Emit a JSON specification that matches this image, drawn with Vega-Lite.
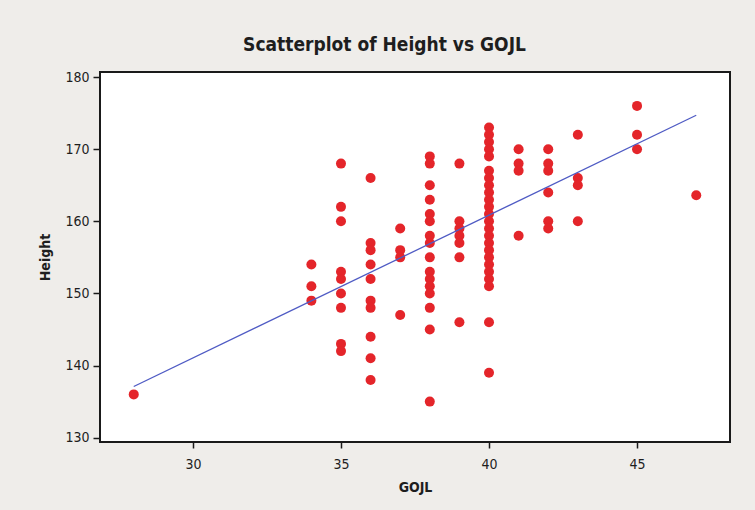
{
  "$schema": "https://vega.github.io/schema/vega-lite/v6.json",
  "width": 630,
  "height": 370,
  "autosize": {"type": "none"},
  "padding": {"left": 100, "top": 72, "right": 25, "bottom": 68},
  "background": "#efedea",
  "title": {
    "text": "Scatterplot of Height vs GOJL",
    "font": "DejaVu Sans Condensed",
    "fontSize": 19,
    "fontWeight": "bold",
    "color": "#1e1e1e",
    "anchor": "middle",
    "frame": "bounds",
    "offset": 15
  },
  "datasets": {
    "points": [
      {"GOJL": 28, "Height": 136},
      {"GOJL": 34, "Height": 154}, {"GOJL": 34, "Height": 151}, {"GOJL": 34, "Height": 149},
      {"GOJL": 35, "Height": 168}, {"GOJL": 35, "Height": 162}, {"GOJL": 35, "Height": 160}, {"GOJL": 35, "Height": 153}, {"GOJL": 35, "Height": 152}, {"GOJL": 35, "Height": 150}, {"GOJL": 35, "Height": 148}, {"GOJL": 35, "Height": 143}, {"GOJL": 35, "Height": 142},
      {"GOJL": 36, "Height": 166}, {"GOJL": 36, "Height": 157}, {"GOJL": 36, "Height": 156}, {"GOJL": 36, "Height": 154}, {"GOJL": 36, "Height": 152}, {"GOJL": 36, "Height": 149}, {"GOJL": 36, "Height": 148}, {"GOJL": 36, "Height": 144}, {"GOJL": 36, "Height": 141}, {"GOJL": 36, "Height": 138},
      {"GOJL": 37, "Height": 159}, {"GOJL": 37, "Height": 156}, {"GOJL": 37, "Height": 155}, {"GOJL": 37, "Height": 147},
      {"GOJL": 38, "Height": 169}, {"GOJL": 38, "Height": 168}, {"GOJL": 38, "Height": 165}, {"GOJL": 38, "Height": 163}, {"GOJL": 38, "Height": 161}, {"GOJL": 38, "Height": 160}, {"GOJL": 38, "Height": 158}, {"GOJL": 38, "Height": 157}, {"GOJL": 38, "Height": 155}, {"GOJL": 38, "Height": 153}, {"GOJL": 38, "Height": 152}, {"GOJL": 38, "Height": 151}, {"GOJL": 38, "Height": 150}, {"GOJL": 38, "Height": 148}, {"GOJL": 38, "Height": 145}, {"GOJL": 38, "Height": 135},
      {"GOJL": 39, "Height": 168}, {"GOJL": 39, "Height": 160}, {"GOJL": 39, "Height": 159}, {"GOJL": 39, "Height": 158}, {"GOJL": 39, "Height": 157}, {"GOJL": 39, "Height": 155}, {"GOJL": 39, "Height": 146},
      {"GOJL": 40, "Height": 173}, {"GOJL": 40, "Height": 172}, {"GOJL": 40, "Height": 171}, {"GOJL": 40, "Height": 170}, {"GOJL": 40, "Height": 169}, {"GOJL": 40, "Height": 167}, {"GOJL": 40, "Height": 166}, {"GOJL": 40, "Height": 165}, {"GOJL": 40, "Height": 164}, {"GOJL": 40, "Height": 163}, {"GOJL": 40, "Height": 162}, {"GOJL": 40, "Height": 161}, {"GOJL": 40, "Height": 160}, {"GOJL": 40, "Height": 159}, {"GOJL": 40, "Height": 158}, {"GOJL": 40, "Height": 157}, {"GOJL": 40, "Height": 156}, {"GOJL": 40, "Height": 155}, {"GOJL": 40, "Height": 154}, {"GOJL": 40, "Height": 153}, {"GOJL": 40, "Height": 152}, {"GOJL": 40, "Height": 151}, {"GOJL": 40, "Height": 146}, {"GOJL": 40, "Height": 139},
      {"GOJL": 41, "Height": 170}, {"GOJL": 41, "Height": 168}, {"GOJL": 41, "Height": 167}, {"GOJL": 41, "Height": 158},
      {"GOJL": 42, "Height": 170}, {"GOJL": 42, "Height": 168}, {"GOJL": 42, "Height": 167}, {"GOJL": 42, "Height": 164}, {"GOJL": 42, "Height": 160}, {"GOJL": 42, "Height": 159},
      {"GOJL": 43, "Height": 172}, {"GOJL": 43, "Height": 166}, {"GOJL": 43, "Height": 165}, {"GOJL": 43, "Height": 160},
      {"GOJL": 45, "Height": 176}, {"GOJL": 45, "Height": 172}, {"GOJL": 45, "Height": 170},
      {"GOJL": 47, "Height": 163.6}
    ],
    "fit": [
      {"GOJL": 28, "Height": 137.1},
      {"GOJL": 47, "Height": 174.7}
    ]
  },
  "encoding": {
    "x": {
      "field": "GOJL", "type": "quantitative",
      "scale": {"domain": [26.86, 48.14], "nice": false, "zero": false},
      "axis": {"values": [30, 35, 40, 45], "title": "GOJL"}
    },
    "y": {
      "field": "Height", "type": "quantitative",
      "scale": {"domain": [129.4, 180.7], "nice": false, "zero": false},
      "axis": {"values": [130, 140, 150, 160, 170, 180], "title": "Height"}
    }
  },
  "layer": [
    {
      "data": {"name": "points"},
      "mark": {"type": "circle", "size": 100, "color": "#e4252a", "opacity": 1}
    },
    {
      "data": {"name": "fit"},
      "mark": {"type": "line", "color": "#4f5bc4", "strokeWidth": 1.3}
    }
  ],
  "config": {
    "view": {"fill": "#ffffff", "stroke": "#1a1a1a", "strokeWidth": 2},
    "axis": {
      "grid": false,
      "domain": false,
      "ticks": true,
      "tickColor": "#1a1a1a",
      "tickWidth": 1.5,
      "labelFont": "DejaVu Sans Condensed",
      "labelFontSize": 14,
      "labelColor": "#1e1e1e",
      "titleFont": "DejaVu Sans Condensed",
      "titleFontSize": 14,
      "titleFontWeight": "bold",
      "titleColor": "#1e1e1e"
    },
    "axisX": {"tickSize": 6, "labelPadding": 9, "titlePadding": 9},
    "axisY": {"tickSize": 7, "labelPadding": 4, "titlePadding": 12}
  }
}
